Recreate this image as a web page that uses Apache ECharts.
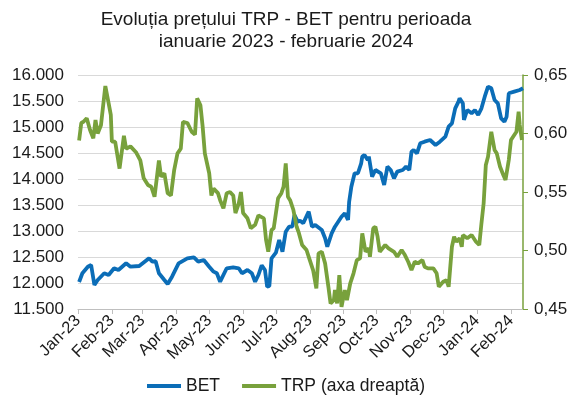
<!DOCTYPE html>
<html>
<head>
<meta charset="utf-8">
<script src="https://cdn.jsdelivr.net/npm/echarts@6/dist/echarts.min.js"></script>
<style>
  html, body { margin: 0; padding: 0; background: #fff; }
  #chart { width: 572px; height: 404px; }
</style>
</head>
<body>
<div id="chart"></div>
<script>
// tick labels of the date axis (month starts)
var monthStarts = ['2023-01-01', '2023-02-01', '2023-03-01', '2023-04-01', '2023-05-01', '2023-06-01', '2023-07-01',
  '2023-08-01', '2023-09-01', '2023-10-01', '2023-11-01', '2023-12-01', '2024-01-01', '2024-02-01']
var monthLabels = ['Jan-23', 'Feb-23', 'Mar-23', 'Apr-23', 'May-23', 'Jun-23', 'Jul-23',
  'Aug-23', 'Sep-23', 'Oct-23', 'Nov-23', 'Dec-23', 'Jan-24', 'Feb-24']
var dateRange = ['2023-01-01', '2024-02-12']

// BET index (left axis)
var betDates = ['2023-01-02', '2023-01-05', '2023-01-10', '2023-01-13', '2023-01-16', '2023-01-19', '2023-01-25', '2023-01-29',
  '2023-02-03', '2023-02-07', '2023-02-14', '2023-02-18', '2023-02-26', '2023-03-07', '2023-03-10', '2023-03-13',
  '2023-03-16', '2023-03-21', '2023-03-24', '2023-03-28', '2023-04-03', '2023-04-11', '2023-04-17', '2023-04-21',
  '2023-04-26', '2023-05-01', '2023-05-05', '2023-05-08', '2023-05-11', '2023-05-17', '2023-05-23', '2023-05-28',
  '2023-05-31', '2023-06-05', '2023-06-09', '2023-06-12', '2023-06-15', '2023-06-18', '2023-06-21', '2023-06-23',
  '2023-06-25', '2023-06-27', '2023-07-01', '2023-07-04', '2023-07-07', '2023-07-10', '2023-07-13', '2023-07-16',
  '2023-07-18', '2023-07-21', '2023-07-23', '2023-07-26', '2023-07-31', '2023-08-03', '2023-08-06', '2023-08-12',
  '2023-08-15', '2023-08-17', '2023-08-21', '2023-08-24', '2023-08-27', '2023-08-30', '2023-09-02', '2023-09-05',
  '2023-09-06', '2023-09-08', '2023-09-11', '2023-09-14', '2023-09-17', '2023-09-18', '2023-09-20', '2023-09-23',
  '2023-09-24', '2023-09-27', '2023-09-30', '2023-10-05', '2023-10-08', '2023-10-11', '2023-10-14', '2023-10-17',
  '2023-10-20', '2023-10-25', '2023-10-28', '2023-10-31', '2023-11-02', '2023-11-04', '2023-11-07', '2023-11-10',
  '2023-11-14', '2023-11-19', '2023-11-24', '2023-11-28', '2023-12-03', '2023-12-06', '2023-12-09', '2023-12-12',
  '2023-12-15', '2023-12-16', '2023-12-19', '2023-12-20', '2023-12-23', '2023-12-27', '2023-12-30', '2024-01-02',
  '2024-01-05', '2024-01-08', '2024-01-11', '2024-01-14', '2024-01-17', '2024-01-20', '2024-01-23', '2024-01-26',
  '2024-01-28', '2024-01-30', '2024-02-04', '2024-02-09', '2024-02-12']
var betValues = [12020, 12187, 12313, 12346, 11962, 12058, 12187, 12154,
  12283, 12250, 12379, 12314, 12327, 12475, 12410, 12420,
  12187, 12058, 11981, 12122, 12379, 12475, 12494, 12410,
  12442, 12314, 12218, 12187, 12025, 12283, 12302, 12283,
  12187, 12250, 12187, 12025, 12154, 12340, 12250, 11930,
  11942, 12475, 12583, 12827, 12602, 12987, 13083, 13083,
  13308, 13179, 13200, 13148, 13372, 13083, 13115, 13019,
  12860, 12699, 12955, 13083, 13179, 13275, 13340, 13212,
  13564, 13852, 14110, 14110, 14302, 14431, 14462, 14366,
  14431, 14045, 14173, 14110, 13885, 14238, 14173, 14013,
  14142, 14173, 14238, 14173, 14525, 14558, 14494, 14686,
  14718, 14750, 14654, 14718, 14814, 15006, 15070, 15359,
  15487, 15552, 15455, 15135, 15327, 15263, 15327, 15231,
  15359, 15583, 15776, 15744, 15519, 15455, 15167, 15102,
  15199, 15648, 15680, 15712, 15744]

// TRP share price (right axis)
var trpDates = ['2023-01-02', '2023-01-04', '2023-01-06', '2023-01-09', '2023-01-12', '2023-01-15', '2023-01-17', '2023-01-19',
  '2023-01-22', '2023-01-26', '2023-01-29', '2023-01-31', '2023-02-01', '2023-02-04', '2023-02-08', '2023-02-12',
  '2023-02-14', '2023-02-18', '2023-02-23', '2023-02-27', '2023-03-02', '2023-03-06', '2023-03-09', '2023-03-12',
  '2023-03-16', '2023-03-18', '2023-03-21', '2023-03-24', '2023-03-27', '2023-03-30', '2023-04-02', '2023-04-05',
  '2023-04-07', '2023-04-11', '2023-04-15', '2023-04-18', '2023-04-20', '2023-04-23', '2023-04-25', '2023-04-27',
  '2023-05-01', '2023-05-03', '2023-05-05', '2023-05-09', '2023-05-11', '2023-05-14', '2023-05-17', '2023-05-20',
  '2023-05-23', '2023-05-25', '2023-05-28', '2023-05-30', '2023-06-01', '2023-06-05', '2023-06-08', '2023-06-12',
  '2023-06-15', '2023-06-20', '2023-06-22', '2023-06-24', '2023-06-27', '2023-06-29', '2023-07-03', '2023-07-06',
  '2023-07-08', '2023-07-10', '2023-07-12', '2023-07-14', '2023-07-17', '2023-07-20', '2023-07-22', '2023-07-25',
  '2023-07-29', '2023-08-01', '2023-08-04', '2023-08-07', '2023-08-09', '2023-08-12', '2023-08-15', '2023-08-18',
  '2023-08-20', '2023-08-23', '2023-08-24', '2023-08-26', '2023-08-28', '2023-08-30', '2023-09-02', '2023-09-04',
  '2023-09-07', '2023-09-10', '2023-09-13', '2023-09-16', '2023-09-18', '2023-09-21', '2023-09-24', '2023-09-25',
  '2023-09-28', '2023-09-30', '2023-10-02', '2023-10-04', '2023-10-09', '2023-10-12', '2023-10-17', '2023-10-20',
  '2023-10-24', '2023-10-27', '2023-10-30', '2023-11-02', '2023-11-05', '2023-11-08', '2023-11-12', '2023-11-14',
  '2023-11-17', '2023-11-22', '2023-11-25', '2023-11-27', '2023-12-01', '2023-12-04', '2023-12-06', '2023-12-09',
  '2023-12-11', '2023-12-13', '2023-12-16', '2023-12-18', '2023-12-19', '2023-12-23', '2023-12-27', '2023-12-31',
  '2024-01-03', '2024-01-05', '2024-01-07', '2024-01-09', '2024-01-11', '2024-01-14', '2024-01-17', '2024-01-19',
  '2024-01-22', '2024-01-25', '2024-01-27', '2024-01-30', '2024-02-01', '2024-02-04', '2024-02-06', '2024-02-08',
  '2024-02-09', '2024-02-11']
var trpValues = [0.594, 0.609, 0.610, 0.613, 0.603, 0.596, 0.6115, 0.600,
  0.607, 0.6406, 0.626, 0.616, 0.593, 0.593, 0.570, 0.598,
  0.587, 0.589, 0.584, 0.577, 0.562, 0.556, 0.5545, 0.546,
  0.577, 0.563, 0.566, 0.549, 0.547, 0.569, 0.583, 0.587,
  0.610, 0.609, 0.6015, 0.599, 0.630, 0.624, 0.606, 0.583,
  0.566, 0.547, 0.553, 0.549, 0.543, 0.536, 0.549, 0.550,
  0.547, 0.532, 0.540, 0.550, 0.532, 0.5275, 0.519, 0.522,
  0.530, 0.5275, 0.509, 0.499, 0.5175, 0.519, 0.5446, 0.549,
  0.5545, 0.5745, 0.546, 0.543, 0.5346, 0.5203, 0.515, 0.5047,
  0.5004, 0.4918, 0.4833, 0.4676, 0.4975, 0.4989, 0.489, 0.469,
  0.4548, 0.4576, 0.4662, 0.4548, 0.479, 0.4519, 0.4662, 0.4576,
  0.4719, 0.4805, 0.4918, 0.4933, 0.5147, 0.4989, 0.5018, 0.4947,
  0.5189, 0.5203, 0.5118, 0.4989, 0.5047, 0.5018, 0.4989, 0.4947,
  0.5004, 0.4961, 0.4904, 0.4833, 0.4904, 0.489, 0.4918, 0.4861,
  0.4847, 0.4847, 0.4805, 0.469, 0.4733, 0.4747, 0.469, 0.5032,
  0.5118, 0.5075, 0.5104, 0.5032, 0.5132, 0.5104, 0.5132, 0.5075,
  0.5047, 0.5232, 0.5403, 0.5731, 0.5802, 0.6015, 0.5859, 0.583,
  0.5716, 0.5645, 0.5602, 0.5773, 0.5944, 0.5987, 0.6015, 0.6186,
  0.6073, 0.5944]

var leftTicks = [11500, 16000, 500]
var rightTicks = [0.45, 0.65, 0.05]

var fontFam = '"Liberation Sans", Arial, sans-serif'
var blue = '#0B6DB7'
var green = '#78A13C'

// dates -> timestamps (UTC) for a plain value axis
function ts (d) { return Date.parse(d + 'T00:00:00Z') }
var monthTs = monthStarts.map(ts)

var chart = echarts.init(document.getElementById('chart'))

var option = {
  animation: false,
  title: {
    text: 'Evoluția prețului TRP - BET pentru perioada\nianuarie 2023 - februarie 2024',
    left: 'center',
    top: 9,
    padding: [0, 46, 0, 0],
    textStyle: { fontFamily: fontFam, fontSize: 19, fontWeight: 'normal', color: '#1a1a1a', lineHeight: 22 }
  },
  legend: {
    bottom: 4,
    left: 'center',
    itemWidth: 34,
    itemHeight: 4,
    itemGap: 22,
    icon: 'rect',
    textStyle: { fontFamily: fontFam, fontSize: 17.5, color: '#1a1a1a' },
    data: ['BET', 'TRP (axa dreaptă)']
  },
  grid: { left: 78, right: 49, top: 75, bottom: 95, containLabel: false },
  xAxis: {
    type: 'value',
    min: ts(dateRange[0]),
    max: ts(dateRange[1]),
    splitLine: { show: false },
    axisLine: { show: true, onZero: false, lineStyle: { color: '#bfbfbf', width: 1 } },
    axisTick: { show: true, customValues: monthTs, length: 5, lineStyle: { color: '#bfbfbf' } },
    axisLabel: {
      customValues: monthTs,
      rotate: 45,
      margin: 9,
      fontFamily: fontFam,
      fontSize: 16.5,
      color: '#1a1a1a',
      formatter: function (v) {
        var i = monthTs.indexOf(v)
        return i >= 0 ? monthLabels[i] : ''
      }
    }
  },
  yAxis: [
    {
      type: 'value',
      min: leftTicks[0],
      max: leftTicks[1],
      interval: leftTicks[2],
      axisLine: { show: false },
      axisTick: { show: false },
      splitLine: { show: true, lineStyle: { color: '#d9d9d9', width: 1 } },
      axisLabel: {
        margin: 14,
        fontFamily: fontFam,
        fontSize: 17,
        color: '#1a1a1a',
        formatter: function (v) { return (v / 1000).toFixed(3) }
      }
    },
    {
      type: 'value',
      position: 'right',
      min: rightTicks[0],
      max: rightTicks[1],
      interval: rightTicks[2],
      axisLine: { show: true, lineStyle: { color: green, width: 1.5 } },
      axisTick: { show: true, length: 5, lineStyle: { color: green } },
      splitLine: { show: false },
      axisLabel: {
        margin: 11,
        fontFamily: fontFam,
        fontSize: 17,
        color: '#1a1a1a',
        formatter: function (v) { return v.toFixed(2).replace('.', ',') }
      }
    }
  ],
  series: [
    {
      name: 'BET',
      type: 'line',
      yAxisIndex: 0,
      showSymbol: false,
      lineStyle: { color: blue, width: 3.8 },
      itemStyle: { color: blue },
      data: betDates.map(function (d, i) { return [ts(d), betValues[i]] })
    },
    {
      name: 'TRP (axa dreaptă)',
      type: 'line',
      yAxisIndex: 1,
      showSymbol: false,
      lineStyle: { color: green, width: 3.8 },
      itemStyle: { color: green },
      data: trpDates.map(function (d, i) { return [ts(d), trpValues[i]] })
    }
  ]
}
chart.setOption(option)
window.addEventListener('resize', function () { chart.resize() })
</script>
</body>
</html>
